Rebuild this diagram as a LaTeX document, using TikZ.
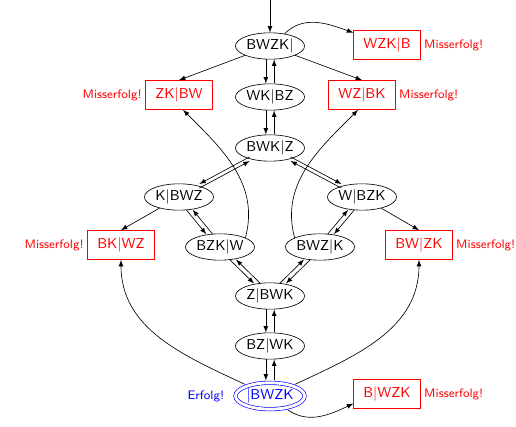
\documentclass[tikz,border=0pt]{standalone}
\usetikzlibrary{shapes.geometric}
\begin{document}
\begin{tikzpicture}[x=0.022cm, y=0.022cm, font=\sffamily\small, >=latex,
    zust/.style={ellipse, draw, inner sep=0.5pt, minimum height=0.58cm},
    miss/.style={rectangle, draw=red, text=red, minimum width=1.47cm, minimum height=0.64cm, inner sep=1pt,
      label={[red, font=\sffamily\fontsize{7.7}{9}\selectfont, inner sep=2pt]#1:Misserfolg!}},
    ziel/.style={zust, draw=blue, text=blue, double, double distance=1.8pt, outer sep=1.5pt,
      label={[blue, font=\sffamily\fontsize{7.7}{9}\selectfont, label distance=2pt]left:Erfolg!}}]
    \useasboundingbox (0,0) rectangle (516,427);
    \coordinate (start) at (270,427);
    % Zustaende
    \node[zust] (bwzk_) at (270,381) {BWZK|};
    \node[zust] (wk_bz) at (270,330) {WK|BZ};
    \node[zust] (bwk_z) at (270,279) {BWK|Z};
    \node[zust] (k_bwz) at (179,230) {K|BWZ};
    \node[zust] (w_bzk) at (362,230) {W|BZK};
    \node[zust] (bzk_w) at (220,180) {BZK|W};
    \node[zust] (bwz_k) at (320,180) {BWZ|K};
    \node[zust] (z_bwk) at (270,131) {Z|BWK};
    \node[zust] (bz_wk) at (270,81) {BZ|WK};
    \node[ziel] (ziel) at (270,31) {|BWZK};
    % Fehlzustaende
    \node[miss=right] (wzk_b) at (387,382) {WZK|B};
    \node[miss=left] (zk_bw) at (179,332) {ZK|BW};
    \node[miss=right] (wz_bk) at (362,332) {WZ|BK};
    \node[miss=left] (bk_wz) at (121,182) {BK|WZ};
    \node[miss=right] (bw_zk) at (419,182) {BW|ZK};
    \node[miss=right] (b_wzk) at (387,33) {B|WZK};
    \draw[->] (start) -- (bwzk_);
    \draw[->] (bwzk_.40) to[out=45,in=160] (wzk_b.160);
    \draw[->] (bwzk_) -- (zk_bw.north);
    \draw[->] (bwzk_) -- (wz_bk.north);
    % hin und zurueck
    \foreach \a/\b in {bwzk_/wk_bz, wk_bz/bwk_z, z_bwk/bz_wk, bz_wk/ziel}{
      \draw[->, transform canvas={xshift=-2.6pt}] (\a) -- (\b);
      \draw[->, transform canvas={xshift=2.6pt}] (\b) -- (\a);
    }
    \foreach \a/\b in {bwk_z/k_bwz, bwk_z/w_bzk}{
      \draw[->, transform canvas={yshift=1.3pt}] (\a) -- (\b);
      \draw[->, transform canvas={yshift=-1.3pt}] (\b) -- (\a);
    }
    \foreach \a/\b/\s/\t in {k_bwz/bzk_w/-2pt/2pt, bzk_w/z_bwk/-2pt/2pt, w_bzk/bwz_k/2pt/-2pt, bwz_k/z_bwk/2pt/-2pt}{
      \draw[->, transform canvas={xshift=\s}] (\a) -- (\b);
      \draw[->, transform canvas={xshift=\t}] (\b) -- (\a);
    }
    \draw[->] (k_bwz) -- (bk_wz.north);
    \draw[->] (w_bzk) -- (bw_zk.north);
    \draw[->] (bzk_w.20) to[out=75,in=-45] (zk_bw.-75);
    \draw[->] (bwz_k.160) to[out=105,in=-135] (wz_bk.-105);
    \draw[->] (ziel) to[out=155,in=-90] (bk_wz.south);
    \draw[->] (ziel) to[out=25,in=-90] (bw_zk.south);
    \draw[->] (ziel.-38) to[out=-35,in=205] (b_wzk.196);
\end{tikzpicture}
\end{document}
